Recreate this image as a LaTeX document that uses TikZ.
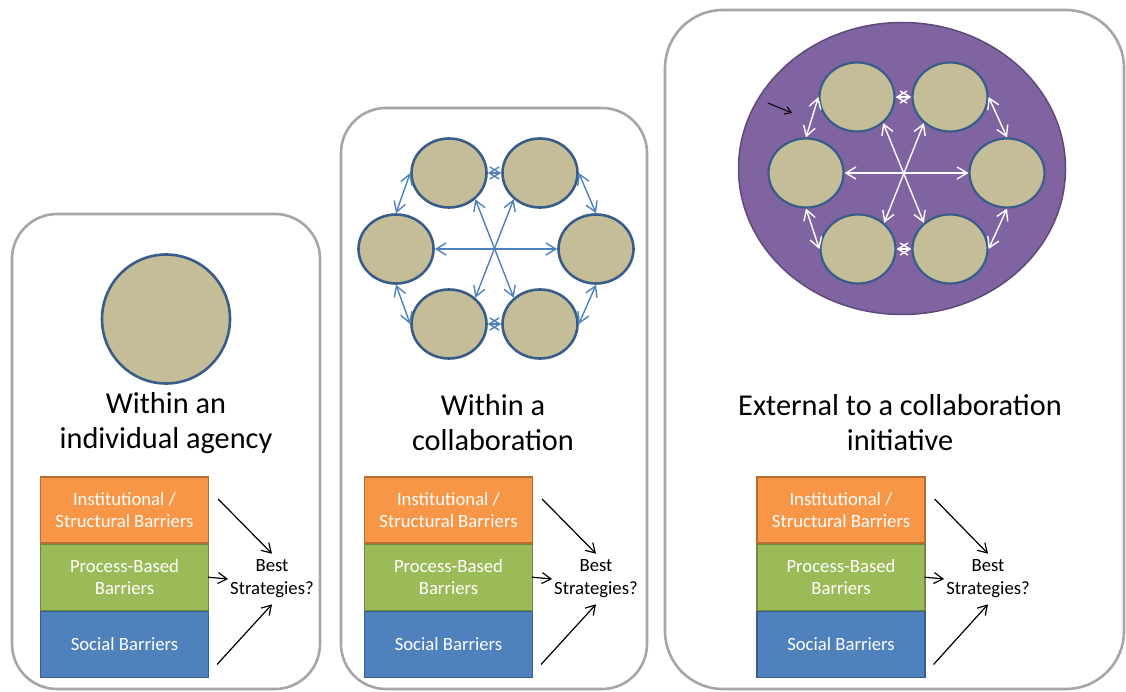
\documentclass[tikz,border=0pt]{standalone}
\usepackage{fontspec}
\setmainfont{Carlito}
\usetikzlibrary{arrows.meta,positioning,shapes.geometric}

\definecolor{panelgray}{HTML}{A6A6A6}
\definecolor{membertan}{HTML}{C4BD97}
\definecolor{memberblue}{HTML}{385D8A}
\definecolor{linkblue}{HTML}{4F81BD}
\definecolor{groupviolet}{HTML}{8064A2}
\definecolor{groupedge}{HTML}{5F497A}
\definecolor{instorange}{HTML}{F79646}
\definecolor{instedge}{HTML}{B66D31}
\definecolor{procgreen}{HTML}{9BBB59}
\definecolor{procedge}{HTML}{71893F}
\definecolor{socblue}{HTML}{4F81BD}
\definecolor{socedge}{HTML}{385D8A}

\begin{document}
\begin{tikzpicture}[
      x=1pt, y=1pt,
      panel/.style={draw=panelgray, line width=2.6pt, rounded corners=45pt},
      member/.style={ellipse, draw=memberblue, line width=2.6pt, fill=membertan,
                     minimum width=75pt, minimum height=69pt, inner sep=0pt},
      heading/.style={font=\fontsize{30.3}{35}\selectfont, align=center,
                      inner sep=0pt},
      barrier/.style={draw, line width=1.2pt, minimum width=168pt,
                      minimum height=66pt, text=white, align=center,
                      font=\fontsize{18.7}{21.5}\selectfont},
      best/.style={font=\fontsize{18.7}{23}\selectfont, align=center,
                   inner sep=2pt},
      tie/.style={{Straight Barb[length=10pt,width=12pt]}-{Straight Barb[length=10pt,width=12pt]},
                  line width=1.4pt},
      push/.style={-{Straight Barb[length=9pt,width=11pt]}, line width=1.2pt},
    ]
    \useasboundingbox (0,0) rectangle (1126,-692);

    % --- the three panels ---------------------------------------------------
    \draw[panel] (12,-214) rectangle (320,-689);
    \draw[panel] (341,-108) rectangle (647,-689);
    \draw[panel, rounded corners=58pt] (665,-10) rectangle (1124,-689);

    % --- panel 1: one agency ------------------------------------------------
    \node[member, minimum width=128pt, minimum height=129pt] (agency)
          at (166,-319) {};
    \node[heading] (head-a) at (166,-423) {Within an\\individual agency};

    % --- panel 2: agencies inside a collaboration --------------------------
    \node[member] (b-tl) at (449,-173) {};
    \node[member] (b-tr) at (540,-173) {};
    \node[member] (b-l)  at (396,-249) {};
    \node[member] (b-r)  at (596,-249) {};
    \node[member] (b-bl) at (449,-324) {};
    \node[member] (b-br) at (540,-324) {};
    \node[heading] (head-b) at (493,-423) {Within a\\collaboration};

    % --- panel 3: the collaboration seen from outside ----------------------
    \node[ellipse, fill=groupviolet, draw=groupedge, line width=1.5pt,
          minimum width=327pt, minimum height=292pt] (group) at (902,-168.5) {};
    \node[member, line width=2.2pt] (c-tl) at (857,-97)  {};
    \node[member, line width=2.2pt] (c-tr) at (950,-97)  {};
    \node[member, line width=2.2pt] (c-l)  at (806,-173) {};
    \node[member, line width=2.2pt] (c-r)  at (1007,-173) {};
    \node[member, line width=2.2pt] (c-bl) at (858,-249) {};
    \node[member, line width=2.2pt] (c-br) at (950,-249) {};
    \node[heading] (head-c) at (900,-423) {External to a collaboration\\initiative};

    \coordinate (cue-from) at (768,-103);
    \coordinate (cue-to)   at (792,-113);
    \draw[-{Straight Barb[length=6pt,width=8pt]}, line width=1pt]
          (cue-from) -- (cue-to);

    % --- links between the agencies (ring + spokes) ------------------------
    \foreach \p/\col in {b/linkblue, c/white} {
      \draw[tie, \col] (\p-tl.east)  -- (\p-tr.west);
      \draw[tie, \col] (\p-bl.east)  -- (\p-br.west);
      \draw[tie, \col] (\p-tl.west)  -- (\p-l.north);
      \draw[tie, \col] (\p-tr.east)  -- (\p-r.north);
      \draw[tie, \col] (\p-l.south)  -- (\p-bl.west);
      \draw[tie, \col] (\p-r.south)  -- (\p-br.east);
      \draw[tie, \col] (\p-l)        -- (\p-r);
      \draw[tie, \col] (\p-tl.-45)   -- (\p-br.135);
      \draw[tie, \col] (\p-tr.-135)  -- (\p-bl.45);
    }

    % --- barrier stacks and where they lead --------------------------------
    \foreach \p/\bx/\sx in {a/124.5/272, b/448.5/596, c/841/988} {
      \node[barrier, fill=instorange, draw=instedge] (inst-\p) at (\bx,-510)
            {Institutional /\\Structural Barriers};
      \node[barrier, fill=procgreen, draw=procedge, below=0pt of inst-\p]
            (proc-\p) {Process-Based\\Barriers};
      \node[barrier, fill=socblue, draw=socedge, below=0pt of proc-\p]
            (soc-\p) {Social Barriers};
      \node[best] (best-\p) at (\sx,-579) {Best\\Strategies?};

      \draw[push] ([shift={(9,11)}]inst-\p.east) -- ([yshift=4pt]best-\p.north);
      \draw[push] ([xshift=-1pt]proc-\p.east) -- (best-\p.west);
      \draw[push] ([shift={(8,-20)}]soc-\p.east) -- ([yshift=-4pt]best-\p.south);
    }
  \end{tikzpicture}
\end{document}
